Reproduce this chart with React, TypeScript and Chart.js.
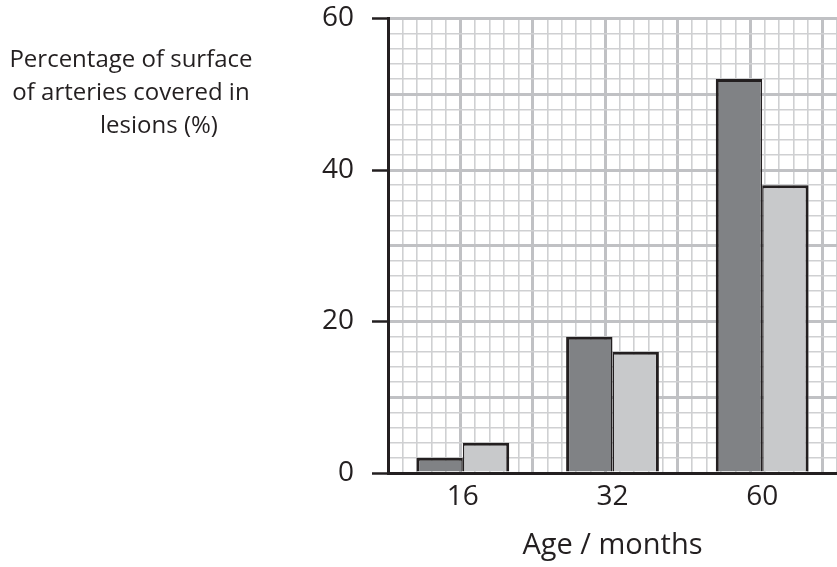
import React, { useEffect, useRef } from "react";
import { Chart, registerables } from "chart.js";

Chart.register(...registerables);

const categories = ["16", "32", "60"];
const darkValues = [2, 18, 52];
const lightValues = [4, 16, 38];
const yTickLabels = [0, 20, 40, 60];
const yTitleLines = ["Percentage of surface", "of arteries covered in", "lesions (%)"];
const xTitle = "Age / months";

const FONT = "'Open Sans', 'DejaVu Sans', sans-serif";
const INK = "#231f20";
const MINOR = "#cfd0d2";
const MAJOR = "#c0c1c4";

export default function App() {
  const ref = useRef<HTMLCanvasElement | null>(null);

  useEffect(() => {
    if (!ref.current) return;
    const chart = new Chart(ref.current, {
      type: "bar",
      data: {
        labels: categories,
        datasets: [
          {
            data: darkValues,
            backgroundColor: "#808285",
            borderColor: INK,
            borderWidth: { top: 3, left: 3, right: 1.5, bottom: 0 },
            borderSkipped: false,
          },
          {
            data: lightValues,
            backgroundColor: "#c8c9cb",
            borderColor: INK,
            borderWidth: { top: 3, left: 1.5, right: 3, bottom: 0 },
            borderSkipped: false,
          },
        ],
      },
      options: {
        animation: false,
        responsive: false,
        devicePixelRatio: 1,
        layout: { padding: { left: 0, right: 0, top: 18.5, bottom: 0 } },
        plugins: { legend: { display: false }, tooltip: { enabled: false } },
        datasets: { bar: { barPercentage: 1, categoryPercentage: 0.62 } },
        scales: {
          x: {
            type: "category",
            position: "bottom",
            grid: { display: false, drawTicks: false },
            border: { display: true, color: INK, width: 3 },
            ticks: { color: INK, font: { family: FONT, size: 28 }, padding: 7 },
            title: {
              display: true,
              text: xTitle,
              color: INK,
              font: { family: FONT, size: 29 },
              padding: { top: 0, bottom: 4 },
            },
            afterFit: (s: any) => {
              s.height = 94;
              s.paddingLeft = 0;
              s.paddingRight = 0;
            },
          },
          xg: {
            type: "linear",
            position: "bottom",
            min: 0,
            max: 30,
            ticks: { display: false, stepSize: 1, autoSkip: false },
            border: { display: false },
            grid: {
              drawTicks: false,
              color: (c: any) =>
                c.tick && c.tick.value === 0 ? "rgba(0,0,0,0)" : c.tick && c.tick.value % 5 === 0 ? MAJOR : MINOR,
              lineWidth: (c: any) => (c.tick && c.tick.value % 5 === 0 ? 3 : 1.6),
            },
            afterFit: (s: any) => {
              s.height = 0;
              s.paddingLeft = 0;
              s.paddingRight = 0;
            },
          },
          y: {
            type: "linear",
            min: 0,
            max: 60,
            ticks: {
              stepSize: 2,
              autoSkip: false,
              color: INK,
              font: { family: FONT, size: 28 },
              padding: 18,
              callback: (v: any) => (yTickLabels.includes(Number(v)) ? String(v) : ""),
            },
            border: { display: true, color: INK, width: 3 },
            grid: {
              drawTicks: true,
              tickLength: 16,
              tickWidth: 2.5,
              tickColor: (c: any) => (c.tick && yTickLabels.includes(c.tick.value) ? INK : "rgba(0,0,0,0)"),
              color: (c: any) =>
                c.tick && c.tick.value === 0 ? "rgba(0,0,0,0)" : c.tick && c.tick.value % 10 === 0 ? MAJOR : MINOR,
              lineWidth: (c: any) => (c.tick && c.tick.value % 10 === 0 ? 3 : 1.6),
            },
            afterFit: (s: any) => {
              s.width = 388;
              s.paddingTop = 0;
              s.paddingBottom = 0;
            },
          },
        },
      },
    });
    return () => chart.destroy();
  }, []);

  return (
    <div
      style={{
        position: "fixed",
        left: 0,
        top: 0,
        width: 837,
        height: 567,
        overflow: "hidden",
        background: "#fff",
      }}
    >
      <canvas ref={ref} width={837} height={567} style={{ width: 837, height: 567, display: "block" }} />
      <div
        style={{
          position: "absolute",
          left: 0,
          top: 41,
          width: 262,
          textAlign: "center",
          fontFamily: FONT,
          fontSize: 24,
          lineHeight: "33px",
          color: INK,
        }}
      >
        {yTitleLines.map((l, i) => (
          <div key={i} style={i === 2 ? { position: "relative", left: 28 } : undefined}>
            {l}
          </div>
        ))}
      </div>
    </div>
  );
}
